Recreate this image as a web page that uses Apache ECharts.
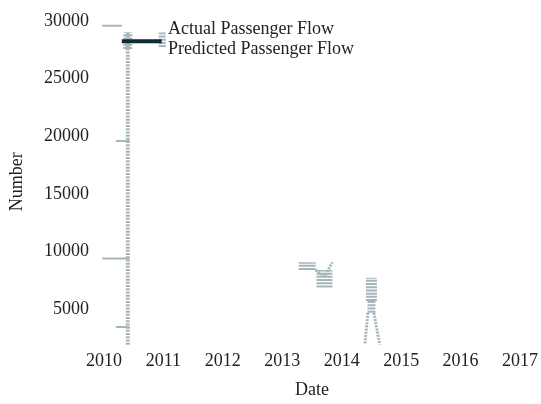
<!DOCTYPE html>
<html>
<head>
<meta charset="utf-8">
<script src="https://cdn.jsdelivr.net/npm/echarts@6/dist/echarts.min.js"></script>
<style>
  html, body { margin: 0; padding: 0; background: #fff; }
  #container { width: 541px; height: 404px; }
</style>
</head>
<body>
<div id="container"></div>
<script>
const years = [2010, 2011, 2012, 2013, 2014, 2015, 2016, 2017];
const yTicks = [5000, 10000, 15000, 20000, 25000, 30000];

// actual flow as [date, passengers]
const actualSpike2010 = [[2010.40, 1930], [2010.40, 28990]];
const actualSpikeTop2010 = [[2010.40, 27560], [2010.40, 28990]];
const actualTail2010 = [[2010.98, 27730], [2010.98, 28990]];
const actualMark1 = [[2009.97, 29580], [2010.30, 29580]];
const actualMark2 = [[2010.20, 19580], [2010.43, 19580]];
const actualMark3 = [[2009.97, 9410], [2010.43, 9410]];
const actualMark4 = [[2010.20, 3450], [2010.43, 3450]];
const actualBlock2013a = [[2013.42, 8400], [2013.42, 9080]];
const actualBlock2013b = [[2013.71, 6890], [2013.71, 8400]];
const actualDip2013 = [[2013.56, 8400], [2013.72, 7820]];
const actualRise2013 = [[2013.73, 7980], [2013.84, 9080]];
const actualBlock2014 = [[2014.50, 5710], [2014.50, 7730]];
const actualNeck2014 = [[2014.50, 4700], [2014.50, 5710]];
const actualLegL2014 = [[2014.44, 4700], [2014.39, 1930]];
const actualLegR2014 = [[2014.54, 4700], [2014.64, 1930]];

// predicted flow
const predicted = [[2010.30, 28230], [2010.97, 28230]];

const grey = '#a5b5ba';
const dark = '#0e2b33';
const font = 'Liberation Serif';

const dom = document.getElementById('container');
const myChart = echarts.init(dom, null, { renderer: 'canvas' });

function actual(data, width, striped) {
	return {
		name: 'Actual Passenger Flow',
		type: 'line',
		data: data,
		symbol: 'none',
		color: grey,
		lineStyle: { color: grey, width: width, type: striped ? [2, 1.2] : 'solid', cap: 'butt' },
		z: 2,
	};
}

const option = {
	animation: false,
	backgroundColor: '#fff',
	textStyle: { fontFamily: font },
	grid: { left: 102, right: 20, top: 18.6, bottom: 48.6 },
	legend: {
		orient: 'vertical',
		left: 157,
		top: 15,
		itemGap: 2,
		itemWidth: 1,
		itemHeight: 13,
		icon: 'rect',
		textStyle: { fontFamily: font, fontSize: 18, color: '#222' },
		data: [
			{ name: 'Actual Passenger Flow', itemStyle: { opacity: 0 } },
			{ name: 'Predicted Passenger Flow', itemStyle: { opacity: 0 } },
		],
	},
	xAxis: {
		type: 'value',
		name: 'Date',
		nameLocation: 'middle',
		nameGap: 36,
		nameTextStyle: { fontFamily: font, fontSize: 18, color: '#222' },
		min: years[0],
		max: years[years.length - 1],
		interval: 1,
		axisLine: { show: false },
		axisTick: { show: false },
		splitLine: { show: false },
		axisLabel: { fontFamily: font, fontSize: 18, color: '#222', margin: 7, formatter: v => String(v) },
	},
	yAxis: {
		type: 'value',
		name: 'Number',
		nameLocation: 'middle',
		nameGap: 78,
		nameTextStyle: { fontFamily: font, fontSize: 18, color: '#222' },
		min: 1900,
		max: 30200,
		axisLine: { show: false },
		axisTick: { show: false },
		splitLine: { show: false },
		axisLabel: {
			fontFamily: font, fontSize: 18, color: '#222', margin: 15,
			customValues: yTicks,
			formatter: v => String(v),
		},
	},
	series: [
		actual(actualSpike2010, 4, true),
		actual(actualSpikeTop2010, 9, true),
		actual(actualTail2010, 7, true),
		actual(actualMark1, 2, false),
		actual(actualMark2, 2, false),
		actual(actualMark3, 2, false),
		actual(actualMark4, 2, false),
		actual(actualBlock2013a, 17, true),
		actual(actualBlock2013b, 16, true),
		actual(actualDip2013, 3, true),
		actual(actualRise2013, 3, true),
		actual(actualBlock2014, 11, true),
		actual(actualNeck2014, 8, true),
		actual(actualLegL2014, 3, true),
		actual(actualLegR2014, 3, true),
		{
			name: 'Predicted Passenger Flow',
			type: 'line',
			data: predicted,
			symbol: 'none',
			color: dark,
			lineStyle: { color: dark, width: 4, cap: 'butt' },
			z: 3,
		},
	],
};

myChart.setOption(option);
</script>
</body>
</html>
